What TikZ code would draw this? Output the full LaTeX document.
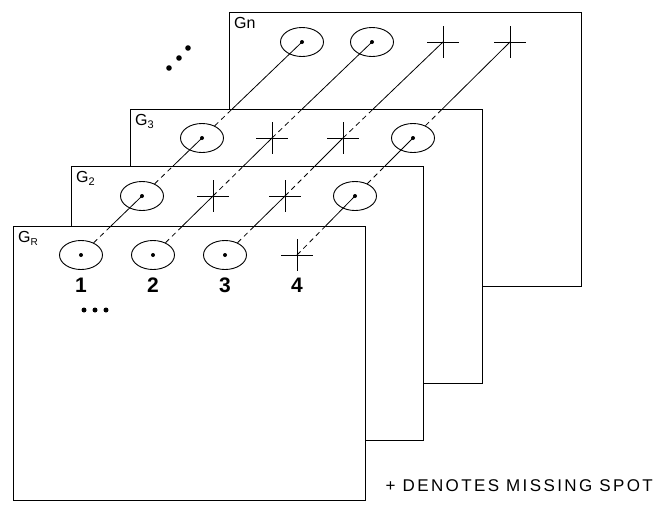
\documentclass[tikz,border=0pt]{standalone}
\usepackage{fontspec}
\setmainfont{Liberation Sans}
\newfontfamily\legendfont[LetterSpace=14]{Liberation Sans}
\usetikzlibrary{shapes.geometric,shapes.misc,calc}
\begin{document}
\begin{tikzpicture}[x=1pt,y=-1pt,
  sheet/.style={draw, line width=1.1pt, fill=white, minimum width=352pt, minimum height=274pt, anchor=north west, inner sep=0pt},
  spot/.style={draw, ellipse, minimum width=43pt, minimum height=29pt, inner sep=0pt, line width=0.9pt},
  miss/.style={draw, cross out, rotate=45, minimum size=21.2pt, inner sep=0pt, line width=0.85pt},
  lab/.style={anchor=north west, inner sep=0pt, font=\fontsize{16}{16}\selectfont},
  num/.style={inner sep=0pt, font=\bfseries\fontsize{21}{21}\selectfont},
  hid/.style={line width=0.8pt, dash pattern=on 5pt off 4pt},
  vis/.style={line width=0.8pt},
  cdot/.style={fill=black}
]
\useasboundingbox (0,0) rectangle (656,504);

% sheets, back to front
\node[sheet] (Sn) at (229,12) {};
\node[sheet] (S3) at (130,109) {};
\node[sheet] (S2) at (71,166) {};
\node[sheet] (SR) at (13,226) {};

% labels
\node[lab] (ln) at ($(Sn.north west)+(5,5)$) {Gn};
\node[lab] (l3) at ($(S3.north west)+(5,5)$) {G\raisebox{-3.5pt}{\fontsize{11}{11}\selectfont 3}};
\node[lab] (l2) at ($(S2.north west)+(5,5)$) {G\raisebox{-3.5pt}{\fontsize{11}{11}\selectfont 2}};
\node[lab] (lR) at ($(SR.north west)+(5,5)$) {G\raisebox{-3.5pt}{\fontsize{10}{10}\selectfont R}};

% Gn row
\node[spot] (N1) at (302,42) {};
\node[spot] (N2) at (372,42) {};
\node[miss] (N3) at (443,42) {};
\node[miss] (N4) at (510,42) {};
% G3 row
\node[spot] (B1) at (202,138) {};
\node[miss] (B2) at (272,138) {};
\node[miss] (B3) at (343,138) {};
\node[spot] (B4) at (413,138) {};
% G2 row
\node[spot] (A1) at (142,196) {};
\node[miss] (A2) at (213,196) {};
\node[miss] (A3) at (285,196) {};
\node[spot] (A4) at (355,196) {};
% GR row
\node[spot] (R1) at (81,255) {};
\node[spot] (R2) at (153,255) {};
\node[spot] (R3) at (225,255) {};
\node[miss] (R4) at (297,255) {};

% center dots of spots
\foreach \e in {N1,N2,B1,B4,A1,A4,R1,R2,R3}
  \fill[cdot] (\e.center) circle (2pt);

% connectors: dashed across a sheet, solid onto the next sheet
\foreach \p/\q/\s/\sh in {R1/A1/R1/SR, A1/B1/A1/S2, B1/N1/B1/S3,
                          R2/A2/R2/SR, A2/B2/A2.center/S2, B2/N2/B2.center/S3,
                          R3/A3/R3/SR, A3/B3/A3.center/S2, B3/N3/B3.center/S3,
                          R4/A4/R4.center/SR, A4/B4/A4/S2, B4/N4/B4/S3}{
  \coordinate (t) at (intersection of \p.center--\q.center and \sh.north west--\sh.north east);
  \draw[hid] (\s) -- (t);
  \draw[vis] (t) -- (\q.center);
}

% column numbers
\node[num] (n1) at (81,285) {1};
\node[num] (n2) at (153,285) {2};
\node[num] (n3) at (225,285) {3};
\node[num] (n4) at (297,285) {4};

% ellipsis dots
\fill (84,310) circle (2.5pt) (95,310) circle (2.5pt) (106,310) circle (2.5pt);
\fill (169,68) circle (2.8pt) (179,58) circle (2.8pt) (188,48) circle (2.8pt);

% legend
\node[anchor=base east, inner sep=0pt] (leg) at (653,491)
  {\legendfont\fontsize{17}{17}\selectfont + DENOTES MISSING SPOT};
\end{tikzpicture}
\end{document}
